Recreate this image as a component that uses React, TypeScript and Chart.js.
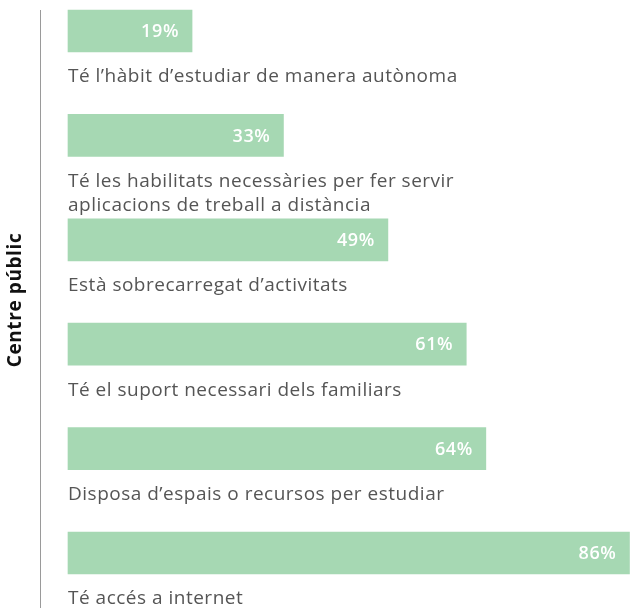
import React, { useEffect, useRef } from "react";
import { Chart, registerables } from "chart.js";

Chart.register(...registerables);

const categories: (string | string[])[] = [
  "Té l’hàbit d’estudiar de manera autònoma",
  ["Té les habilitats necessàries per fer servir", "aplicacions de treball a distància"],
  "Està sobrecarregat d’activitats",
  "Té el suport necessari dels familiars",
  "Disposa d’espais o recursos per estudiar",
  "Té accés a internet",
];
const values: number[] = [19, 33, 49, 61, 64, 86];
const axisTitle = "Centre públic";

const BAR_COLOR = "#a6d8b3";
const TEXT_COLOR = "#555555";
const FONT = "'Open Sans', sans-serif";

const labelPlugin = {
  id: "barLabels",
  afterDatasetsDraw(chart: any) {
    const ctx = chart.ctx;
    const meta = chart.getDatasetMeta(0);
    ctx.save();
    // axis line
    ctx.strokeStyle = "#9a9a9a";
    ctx.lineWidth = 1;
    ctx.beginPath();
    ctx.moveTo(40.5, 10);
    ctx.lineTo(40.5, 608);
    ctx.stroke();
    // axis title
    ctx.save();
    ctx.translate(16, 300);
    ctx.rotate(-Math.PI / 2);
    ctx.fillStyle = "#111111";
    ctx.font = `bold 19px ${FONT}`;
    (ctx as any).letterSpacing = "0.6px";
    ctx.textAlign = "center";
    ctx.textBaseline = "middle";
    ctx.fillText(axisTitle, 0, 0);
    ctx.restore();

    meta.data.forEach((bar: any, i: number) => {
      const props = bar.getProps(["x", "y", "base", "height"], true);
      // value
      ctx.fillStyle = "#ffffff";
      ctx.font = `600 18px ${FONT}`;
      (ctx as any).letterSpacing = "0.6px";
      ctx.textAlign = "right";
      ctx.textBaseline = "middle";
      ctx.fillText(values[i] + "%", props.x - 13, props.y + 1);
      // category label
      const lab = categories[i];
      const lines = Array.isArray(lab) ? lab : [lab];
      ctx.fillStyle = TEXT_COLOR;
      ctx.font = `19px ${FONT}`;
      (ctx as any).letterSpacing = "0.5px";
      ctx.textAlign = "left";
      lines.forEach((ln, k) => {
        ctx.fillText(ln, props.base, props.y + props.height / 2 + 25 + k * 24);
      });
    });
    ctx.restore();
  },
};

export default function App() {
  const ref = useRef<HTMLCanvasElement>(null);
  useEffect(() => {
    if (!ref.current) return;
    const chart = new Chart(ref.current, {
      type: "bar",
      data: {
        labels: categories.map((c) => (Array.isArray(c) ? c.join(" ") : c)),
        datasets: [
          {
            data: values,
            backgroundColor: BAR_COLOR,
            barThickness: 42,
            borderWidth: 0,
            clip: false as any,
          },
        ],
      },
      options: {
        indexAxis: "y",
        animation: false,
        responsive: true,
        maintainAspectRatio: false,
        layout: { padding: { top: 31, bottom: 56, left: 68, right: 0 } },
        plugins: { legend: { display: false }, tooltip: { enabled: false } },
        scales: {
          x: { display: false, min: 0, max: 87 },
          y: { display: false, offset: false },
        },
      },
      plugins: [labelPlugin],
    });
    return () => chart.destroy();
  }, []);
  return (
    <div style={{ position: "absolute", left: 0, top: 0, width: 636, height: 609, background: "#fff" }}>
      <canvas ref={ref} />
    </div>
  );
}
